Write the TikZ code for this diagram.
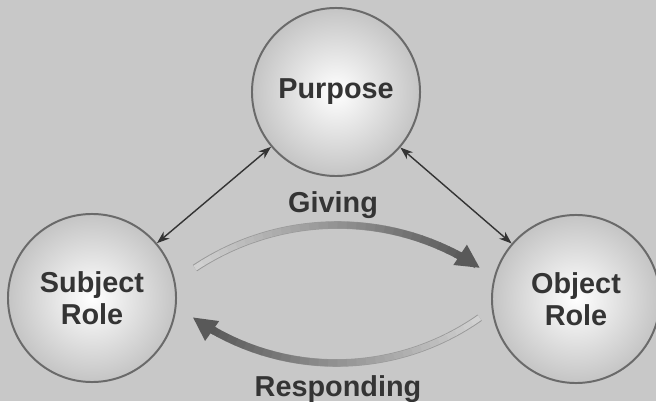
\documentclass[tikz,border=0pt]{standalone}
\usepackage{fontspec}
\setmainfont{Liberation Sans}
\usetikzlibrary{arrows.meta}
\definecolor{PageGray}{HTML}{C8C8C8}
\definecolor{InkGray}{HTML}{343434}
\definecolor{RimGray}{HTML}{6A6A6A}

\begin{document}
\begin{tikzpicture}[x=0.025cm, y=0.025cm,
    role/.style={circle, draw=RimGray, line width=1.4pt, minimum size=4.2cm,
                 inner sep=0pt, inner color=white, outer color=black!23,
                 align=center, text=InkGray,
                 font=\fontsize{20.5}{22.7}\selectfont\bfseries},
    flowlabel/.style={anchor=base, text=InkGray,
                 font=\fontsize{20.5}{22.7}\selectfont\bfseries},
    link/.style={{Stealth[length=9pt,width=6.5pt]}-{Stealth[length=9pt,width=6.5pt]},
                 line width=1pt, draw=InkGray}]
  \useasboundingbox[fill=PageGray] (0,0) rectangle (656,401);

  % the three roles
  \node[role] (purpose) at (336,309) {Purpose};
  \node[role] (subject) at (92,103) {Subject\\Role};
  \node[role] (object) at (576,102) {Object\\Role};

  \draw[link] (subject) -- (purpose);
  \draw[link] (purpose) -- (object);

  % centres of the two flow arcs
  \coordinate (giveC) at (337.5,-81.6);
  \coordinate (replyC) at (336.5,287);

  % giving: light tail on the left, darker towards the head
  \draw[line width=5.4pt, black!40] (giveC) ++(123.6:257.6) arc[start angle=123.6, end angle=61, radius=257.6];
  \foreach \i in {0,...,29}{
    \pgfmathsetmacro{\a}{123.6-2.1*\i}
    \pgfmathsetmacro{\b}{\a-2.3}
    \pgfmathsetmacro{\k}{18+1.6*\i}
    \pgfmathsetmacro{\w}{4+0.05*\i}
    \draw[line width=\w pt, black!\k] (giveC) ++(\a:257.6) arc[start angle=\a, end angle=\b, radius=257.6];
  }
  \draw[line width=5.4pt, black!65, -{Triangle[length=17pt,width=16pt]}]
    (giveC) ++(62:257.6) arc[start angle=62, end angle=56.4, radius=257.6];

  % responding: light tail on the right, head on the left
  \draw[line width=5.4pt, black!40] (replyC) ++(-54.9:249) arc[start angle=-54.9, end angle=-120, radius=249];
  \foreach \i in {0,...,29}{
    \pgfmathsetmacro{\a}{-54.9-2.18*\i}
    \pgfmathsetmacro{\b}{\a-2.4}
    \pgfmathsetmacro{\k}{18+1.6*\i}
    \pgfmathsetmacro{\w}{4+0.05*\i}
    \draw[line width=\w pt, black!\k] (replyC) ++(\a:249) arc[start angle=\a, end angle=\b, radius=249];
  }
  \draw[line width=5.4pt, black!65, -{Triangle[length=17pt,width=16pt]}]
    (replyC) ++(-119.2:249) arc[start angle=-119.2, end angle=-125.3, radius=249];

  \node[flowlabel] (giving) at (333,188) {Giving};
  \node[flowlabel] (responding) at (338,5) {Responding};
\end{tikzpicture}
\end{document}
